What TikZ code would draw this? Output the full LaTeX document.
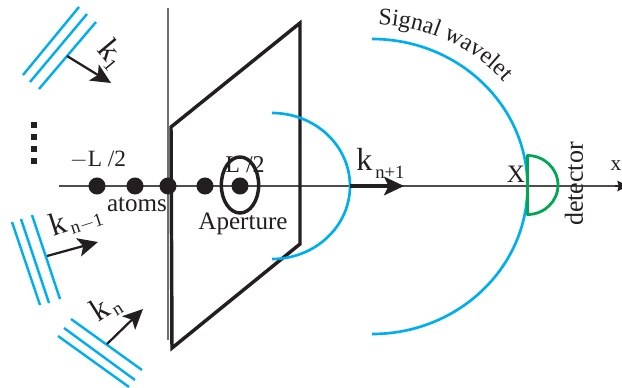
\documentclass[tikz,border=0pt]{standalone}
\usepackage{fontspec}
\setmainfont{Liberation Serif}
\usetikzlibrary{arrows.meta,decorations.text,shapes.geometric}
\definecolor{ink}{HTML}{231F20}
\definecolor{wave}{HTML}{00AEEF}
\definecolor{det}{HTML}{00A651}
\newcommand{\lowsub}[2][6pt]{\raisebox{-#1}{\fontsize{14}{14}\selectfont #2}}
\tikzset{
 front/.style={wave,line width=1.8pt},
 wavearc/.style={wave,line width=2pt},
 beam/.style={ink,line width=1.7pt,-{Stealth[length=15pt,width=14pt,inset=3.5pt]}},
 dot/.style={circle,fill=ink,minimum size=12.8pt,inner sep=0pt},
 lab/.style={ink,font=\fontsize{18.8}{19}\selectfont,inner sep=0pt},
 klab/.style={ink,font=\fontsize{24}{24}\selectfont,inner sep=0pt,anchor=base west},
 pip/.style={fill=ink,minimum size=4.6pt,inner sep=0pt},
}
\begin{document}
\begin{tikzpicture}[x=0.75pt,y=-0.75pt]
\useasboundingbox (0,0) rectangle (622,387);
% thin lines
\draw[ink!65,line width=1pt] (168,8) -- (168,340);
\coordinate (axL) at (59,186); \coordinate (axR) at (628,186);
\draw[ink!80,line width=1pt] (axL) -- (axR);
\draw[ink,line width=1pt,-{Stealth[length=8pt,width=8pt,inset=1pt]}] (615,186) -- (axR);
% aperture plane
\draw[ink,line width=2.6pt,line join=miter] (171,127) -- (300,23) -- (300,244) -- (172,348) -- cycle;
% wavelets
\draw[wavearc] (372,39) arc[start angle=-90,end angle=90,x radius=155.5,y radius=147.5];
\draw[wavearc] (272,113) arc[start angle=-90,end angle=90,x radius=78,y radius=73];
\draw[det,line width=2.1pt,line join=round] (527.5,155.5) arc[start angle=-90,end angle=90,x radius=30.5,y radius=29.5] -- cycle;
% atoms
\foreach \n/\x in {a/97,b/135,c/168,d/205,e/240}
  \node[dot] (\n) at (\x,186) {};
\node[draw=ink,line width=2.6pt,ellipse,minimum width=28pt,minimum height=42pt,inner sep=0pt] (ap) at (240,185) {};
% wave fronts
\draw[front] (23,75) -- (79,7);
\draw[front] (30,82) -- (87,14);
\draw[front] (39,89) -- (96,22);
\draw[front] (12,222) -- (40,305);
\draw[front] (21,219) -- (49,303);
\draw[front] (32,215) -- (60,299);
\draw[front] (71,319) -- (142,370);
\draw[front] (64,328) -- (135,380);
\draw[front] (58,336) -- (129,387);
% beams
\coordinate (b1s) at (67,56); \coordinate (b1e) at (111,83);
\coordinate (b2s) at (47,256); \coordinate (b2e) at (98,242);
\coordinate (b3s) at (107,344); \coordinate (b3e) at (143,309);
\coordinate (b4s) at (350,186); \coordinate (b4e) at (404,186);
\draw[beam] (b1s) -- (b1e);
\draw[beam] (b2s) -- (b2e);
\draw[beam] (b3s) -- (b3e);
\draw[beam,line width=2.4pt] (b4s) -- (b4e);
% dots
\foreach \n/\y in {p/125,q/137,r/149,s/161}
  \node[pip] (\n) at (34,\y) {};
% labels
\node[klab,rotate=-50] (k1) at (96,50) {k\lowsub[4pt]{1}};
\node[klab,rotate=18] (k2) at (53,237) {k\lowsub[3pt]{\,n$-$1}};
\node[klab,rotate=32] (k3) at (98,323) {k\lowsub[3pt]{\,n}};
\node[klab] (k4) at (356,170) {k\lowsub{\,n+1}};
\node[lab,font=\fontsize{17.5}{18}\selectfont] (mL) at (98,160) {$-$L /2};
\node[lab,font=\fontsize{18}{18}\selectfont] (pL) at (245,165) {L /2};
\node[lab] (at) at (137,205) {atoms};
\node[lab] (apt) at (243,224) {Aperture};
\node[lab] (X) at (516,174) {X};
\node[lab,font=\fontsize{16}{16}\selectfont] (xx) at (616,166) {x};
\node[lab,font=\fontsize{19.5}{20}\selectfont,rotate=90] (dt) at (574,184) {detector};
% curved title
\path[decorate,decoration={text along path,text align=left,
  text={|\color{ink}\fontsize{18}{18}\selectfont|Signal wavelet}}]
  (378,24.5) arc[start angle=-88,end angle=-10,x radius=172,y radius=162];
\end{tikzpicture}
\end{document}
